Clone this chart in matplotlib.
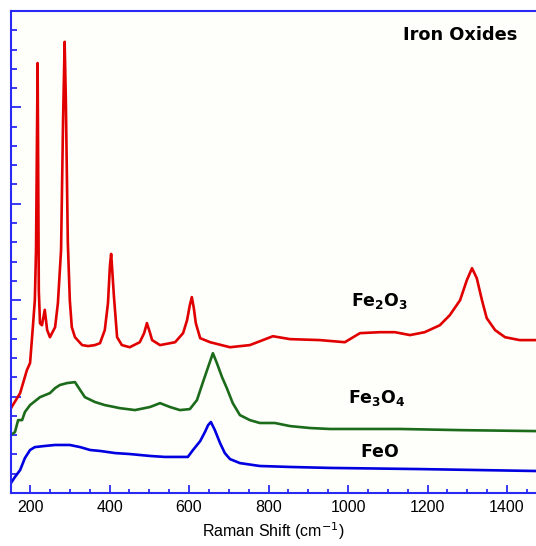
import numpy as np
import matplotlib
matplotlib.use("Agg")
import matplotlib.pyplot as plt
from matplotlib.ticker import MultipleLocator

# Raman spectra (cm^-1, arbitrary offset intensity)
fe2o3_x = [152, 175, 192, 200, 207, 212, 215, 219, 222, 225, 230, 237, 243, 250, 263, 270,
           278, 283, 287, 290, 295, 300, 305, 313, 331, 346, 363, 376, 388, 396, 401, 404,
           406, 411, 419, 431, 451, 476, 487, 494, 502, 507, 527, 565, 585, 595, 602, 607,
           612, 617, 628, 653, 703, 753, 811, 854, 929, 992, 1030, 1080, 1118, 1156, 1193,
           1231, 1256, 1282, 1299, 1312, 1324, 1337, 1349, 1370, 1395, 1432, 1473]
fe2o3_y = [4.40, 5.18, 6.37, 6.74, 8.60, 10.0, 12.6, 22.3, 10.5, 8.8, 8.7, 9.5, 8.45, 8.08,
           8.6, 9.84, 12.6, 19.3, 23.4, 20.4, 13.0, 10.0, 8.6, 8.08, 7.67, 7.62, 7.67, 7.77,
           8.45, 9.84, 11.8, 12.4, 11.8, 10.2, 8.08, 7.67, 7.56, 7.82, 8.29, 8.81, 8.29, 7.93,
           7.67, 7.82, 8.29, 8.96, 9.74, 10.16, 9.59, 8.81, 8.03, 7.82, 7.56, 7.67, 8.13, 7.98,
           7.93, 7.82, 8.29, 8.34, 8.34, 8.19, 8.34, 8.70, 9.22, 10.0, 11.04, 11.66, 11.14,
           10.0, 9.07, 8.45, 8.08, 7.93, 7.93]

fe3o4_x = [152, 162, 170, 180, 187, 200, 225, 250, 263, 275, 293, 313, 326, 338, 363, 388,
           426, 464, 502, 527, 552, 577, 602, 620, 635, 648, 660, 670, 683, 695, 710, 728,
           753, 778, 816, 854, 904, 954, 1131, 1282, 1473]
fe3o4_y = [3.01, 3.16, 3.78, 3.78, 4.20, 4.56, 4.97, 5.18, 5.44, 5.60, 5.70, 5.75, 5.34,
           4.97, 4.72, 4.56, 4.40, 4.30, 4.46, 4.66, 4.46, 4.30, 4.35, 4.82, 5.75, 6.53,
           7.25, 6.74, 6.01, 5.44, 4.66, 4.04, 3.78, 3.63, 3.63, 3.47, 3.37, 3.32, 3.32,
           3.26, 3.21]

feo_x = [152, 162, 175, 187, 200, 212, 238, 263, 300, 326, 351, 376, 414, 451, 502, 539,
         577, 597, 610, 628, 640, 648, 655, 665, 678, 690, 703, 728, 778, 854, 954, 1181, 1473]
feo_y = [0.52, 0.83, 1.19, 1.81, 2.23, 2.38, 2.44, 2.49, 2.49, 2.38, 2.23, 2.18, 2.07, 2.02,
         1.92, 1.87, 1.87, 1.87, 2.23, 2.69, 3.16, 3.52, 3.68, 3.26, 2.59, 2.07, 1.76, 1.55,
         1.40, 1.35, 1.30, 1.24, 1.14]

axis_blue = "#2a2af5"
plt.rcParams["mathtext.fontset"] = "dejavusans"

fig = plt.figure(figsize=(5.36, 5.46), dpi=100)
ax = fig.add_axes([0.0205, 0.0971, 0.9795, 0.8828])
ax.set_facecolor("#fefefa")

ax.plot(fe2o3_x, fe2o3_y, color="#e00000", lw=1.9)
ax.plot(fe3o4_x, fe3o4_y, color="#1b6b1b", lw=1.9)
ax.plot(feo_x, feo_y, color="#0000e0", lw=1.9)

ax.set_xlim(152, 1473)
ax.set_ylim(0, 25)

ax.xaxis.set_major_locator(MultipleLocator(200))
ax.xaxis.set_minor_locator(MultipleLocator(50))
ax.yaxis.set_major_locator(MultipleLocator(5))
ax.yaxis.set_minor_locator(MultipleLocator(1))
ax.set_yticklabels([])

ax.spines["right"].set_visible(False)
for s in ["left", "top", "bottom"]:
    ax.spines[s].set_color(axis_blue)
    ax.spines[s].set_linewidth(1.5)
ax.tick_params(axis="both", which="both", direction="in", color=axis_blue, width=1.3)
ax.tick_params(axis="x", which="major", length=6)
ax.tick_params(axis="x", which="minor", length=3)
ax.tick_params(axis="y", which="major", length=7)
ax.tick_params(axis="y", which="minor", length=4)
ax.tick_params(top=False, right=False)
ax.tick_params(axis="x", labelsize=11.5, pad=5)
for lab in ax.get_xticklabels():
    lab.set_fontfamily("Liberation Sans")

ax.set_xlabel("Raman Shift (cm$^{-1}$)", fontsize=11.5, family="Liberation Sans", labelpad=4)

ax.text(1283, 23.75, "Iron Oxides", fontsize=12.8, fontweight="bold", ha="center", va="center")
ax.text(1080, 9.95, r"$\mathbf{Fe_2O_3}$", fontsize=12.5, ha="center", va="center")
ax.text(1072, 4.95, r"$\mathbf{Fe_3O_4}$", fontsize=12.5, ha="center", va="center")
ax.text(1080, 2.13, r"$\mathbf{FeO}$", fontsize=12.5, ha="center", va="center")

fig.savefig("out.png", dpi=100)
